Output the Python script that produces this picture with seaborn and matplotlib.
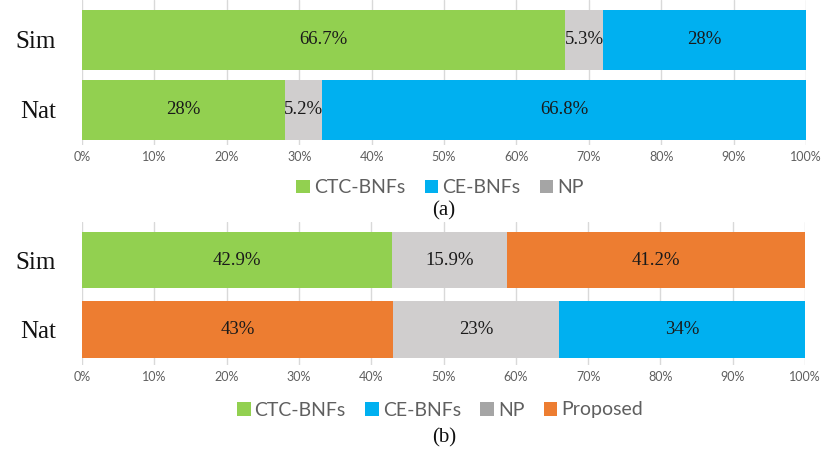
import matplotlib
matplotlib.use("Agg")
import matplotlib.pyplot as plt
from matplotlib.patches import Patch
import pandas as pd
import seaborn as sns

# Data (percent of each row, left to right)
rows = ["Sim", "Nat"]

a_series = [["CTC-BNFs", "NP", "CE-BNFs"],
            ["CTC-BNFs", "NP", "CE-BNFs"]]
a_values = [[66.7, 5.3, 28],
            [28, 5.2, 66.8]]

b_series = [["CTC-BNFs", "NP", "Proposed"],
            ["Proposed", "NP", "CE-BNFs"]]
b_values = [[42.9, 15.9, 41.2],
            [43, 23, 34]]

a_legend = ["CTC-BNFs", "CE-BNFs", "NP"]
b_legend = ["CTC-BNFs", "CE-BNFs", "NP", "Proposed"]
xticks = list(range(0, 101, 10))

colors = {"CTC-BNFs": "#92D050", "CE-BNFs": "#00B0F0",
          "NP": "#D0CECE", "Proposed": "#ED7D31"}
legend_colors = {"CTC-BNFs": "#92D050", "CE-BNFs": "#00B0F0",
                 "NP": "#A5A5A5", "Proposed": "#ED7D31"}

sns.set_style("white")
serif = "Liberation Serif"
sans = "Lato"
tick_gray = "#5f5f5f"


def make_frame(series, values):
    recs = []
    for row, ser, vals in zip(rows, series, values):
        end = 0
        for pos, (s, v) in enumerate(zip(ser, vals)):
            recs.append({"row": row, "series": s, "value": v, "pos": pos,
                         "start": end, "end": end + v})
            end += v
    return pd.DataFrame(recs)


def draw_panel(ax, df, width, ylims):
    # stacked look: draw cumulative ends from the last segment to the first
    for pos in sorted(df["pos"].unique(), reverse=True):
        sub = df[df["pos"] == pos]
        sns.barplot(data=sub, x="end", y="row", hue="series", palette=colors,
                    order=rows, dodge=False, width=width, saturation=1,
                    linewidth=0, legend=False, ax=ax)
    for _, r in df.iterrows():
        ax.text((r["start"] + r["end"]) / 2, rows.index(r["row"]),
                f"{r['value']:g}%", ha="center", va="center",
                family=serif, fontsize=13.5, color="#1a1a1a")
    ax.set_xlim(0, 100)
    ax.set_ylim(*ylims)
    ax.set_xticks(xticks)
    ax.set_xticklabels([f"{t}%" for t in xticks], family=sans,
                       fontsize=9, color=tick_gray)
    for lab in ax.get_yticklabels():
        lab.set_family(serif)
        lab.set_fontsize(18)
        lab.set_color("#111111")
    ax.tick_params(axis="both", length=0)
    ax.tick_params(axis="x", pad=4)
    ax.tick_params(axis="y", pad=19)
    ax.set_xlabel("")
    ax.set_ylabel("")
    ax.grid(axis="x", color="#D9D9D9", linewidth=1)
    ax.grid(axis="y", visible=False)
    ax.set_axisbelow(True)
    for sp in ax.spines.values():
        sp.set_visible(False)


fig = plt.figure(figsize=(8.3, 4.67), dpi=100)
W, H = 830, 467
ax_a = fig.add_axes([82 / W, 1 - 145 / H, 724 / W, 145 / H])
ax_b = fig.add_axes([82 / W, 1 - 365 / H, 723 / W, 143 / H])

draw_panel(ax_a, make_frame(a_series, a_values), 0.857, (1.5, -0.571))
draw_panel(ax_b, make_frame(b_series, b_values), 0.81, (1.51, -0.55))

for names, ypx in [(a_legend, 188), (b_legend, 410)]:
    handles = [Patch(facecolor=legend_colors[n], edgecolor="none") for n in names]
    leg = fig.legend(handles, names, loc="center", ncol=len(names),
                     bbox_to_anchor=(440 / W, 1 - ypx / H), frameon=False,
                     handlelength=0.7, handleheight=0.7, handletextpad=0.2,
                     columnspacing=1.0, prop={"family": sans, "size": 14})
    for t in leg.get_texts():
        t.set_color(tick_gray)

fig.text(444 / W, 1 - 211 / H, "(a)", ha="center", va="center",
         family=serif, fontsize=15, color="#111111")
fig.text(444 / W, 1 - 438 / H, "(b)", ha="center", va="center",
         family=serif, fontsize=15, color="#111111")

fig.savefig("out.png", dpi=100)
